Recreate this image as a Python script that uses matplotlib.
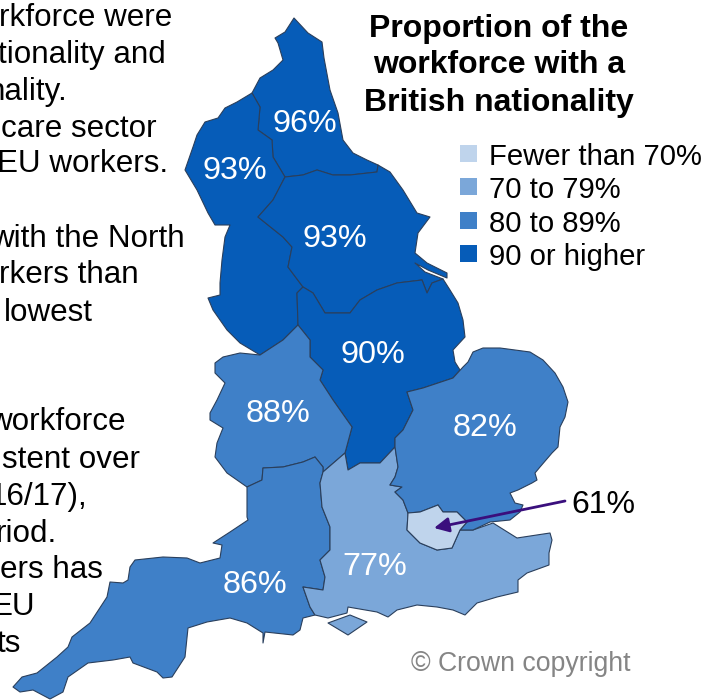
import matplotlib
matplotlib.use("Agg")
import matplotlib.pyplot as plt
from matplotlib.patches import Polygon, Rectangle, FancyArrowPatch

plt.rcParams['font.family'] = ['Liberation Sans', 'DejaVu Sans']

BINS = ["Fewer than 70%", "70 to 79%", "80 to 89%", "90 or higher"]
BIN_COLOURS = ["#bfd4ec", "#7ba7d9", "#3f80c8", "#065cb8"]

NORTH_EAST = [(294,18),(308,33),(322,42),(324,58),(330,90),(338,113),(343,140),(353,153),(367,160),(378,165),(377,172),(350,175),(333,175),(317,170),(303,175),(285,177),(273,157),(272,140),(258,130),(260,107),(252,93),(260,78),(273,70),(283,60),(278,43),(275,38),(285,32)]
NORTH_WEST = [(252,93),(260,107),(258,130),(272,140),(273,157),(285,177),(273,200),(258,217),(283,237),(292,247),(288,267),(303,287),(297,293),(298,325),(283,340),(260,355),(240,343),(227,330),(213,310),(208,298),(220,295),(220,283),(222,260),(225,237),(230,225),(215,225),(208,213),(197,190),(185,170),(193,147),(197,135),(205,122),(218,118),(225,108),(237,102)]
YORKSHIRE = [(285,177),(303,175),(317,170),(333,175),(350,175),(377,172),(378,165),(390,172),(403,190),(417,213),(430,217),(418,233),(415,253),(427,263),(447,273),(447,278),(428,270),(415,263),(425,272),(443,279),(432,283),(427,293),(422,280),(397,283),(377,290),(360,300),(350,313),(325,313),(313,293),(303,287),(288,267),(292,247),(283,237),(258,217),(273,200)]
EAST_MIDLANDS = [(303,287),(313,293),(325,313),(350,313),(360,300),(377,290),(397,283),(422,280),(427,293),(432,283),(443,279),(450,290),(458,303),(463,320),(465,337),(453,350),(455,362),(460,370),(453,378),(423,388),(407,392),(413,410),(403,430),(395,438),(395,447),(380,463),(360,463),(348,470),(345,453),(352,427),(333,400),(320,380),(323,370),(310,357),(310,340),(298,325),(297,293)]
WEST_MIDLANDS = [(298,325),(310,340),(310,357),(323,370),(320,380),(333,400),(352,427),(345,453),(323,472),(323,467),(315,457),(303,462),(283,467),(263,468),(262,480),(247,487),(227,473),(215,457),(217,443),(223,428),(210,420),(210,413),(217,400),(225,383),(215,373),(215,363),(223,357),(240,353),(260,355),(283,340)]
SOUTH_WEST = [(247,487),(262,480),(263,468),(283,467),(303,462),(315,457),(323,467),(323,472),(320,483),(322,507),(330,527),(330,550),(320,560),(325,577),(323,590),(303,587),(310,607),(315,615),(303,618),(300,630),(293,635),(265,632),(263,643),(263,633),(247,623),(230,618),(207,622),(188,628),(185,657),(172,677),(163,678),(157,672),(133,663),(130,657),(113,660),(88,663),(68,677),(63,692),(50,699),(33,690),(20,692),(13,687),(22,677),(37,673),(57,657),(68,647),(72,637),(90,623),(107,597),(110,582),(123,583),(128,580),(130,567),(135,560),(163,557),(187,558),(200,563),(220,558),(222,545),(213,543),(230,532),(248,520),(247,517)]
SOUTH_EAST = [(323,472),(345,453),(348,470),(360,463),(380,463),(395,447),(398,467),(395,477),(390,485),(402,487),(395,492),(403,500),(408,513),(407,530),(420,543),(437,550),(452,548),(460,530),(473,530),(493,523),(517,538),(550,533),(552,540),(549,553),(549,565),(527,573),(518,580),(518,592),(497,597),(477,603),(465,615),(453,610),(437,607),(417,605),(397,610),(388,617),(377,612),(348,607),(347,613),(328,618),(315,615),(310,607),(303,587),(323,590),(325,577),(320,560),(330,550),(330,527),(322,507),(320,483)]
ISLE_OF_WIGHT = [(328,623),(350,615),(367,622),(348,635)]
EAST = [(407,392),(423,388),(453,378),(463,367),(468,362),(473,352),(483,348),(500,348),(530,352),(543,360),(555,373),(563,387),(568,402),(565,417),(560,427),(558,447),(552,453),(540,467),(535,473),(537,480),(532,483),(518,490),(510,493),(515,503),(523,505),(520,512),(510,520),(490,522),(473,530),(460,530),(467,522),(457,512),(443,512),(438,505),(420,512),(408,513),(403,500),(395,492),(402,487),(390,485),(395,477),(398,467),(395,447),(395,438),(403,430),(413,410)]
LONDON = [(408,513),(420,512),(438,505),(443,512),(457,512),(467,522),(460,530),(452,548),(437,550),(420,543),(407,530)]

REGIONS = [(NORTH_EAST,3),(NORTH_WEST,3),(YORKSHIRE,3),(EAST_MIDLANDS,3),(WEST_MIDLANDS,2),(SOUTH_WEST,2),(SOUTH_EAST,1),(ISLE_OF_WIGHT,1),(EAST,2),(LONDON,0)]

REGION_LABELS = [("96%",305,132),("93%",235,179),("93%",335,247),("90%",373,363),("88%",278,422),("82%",485,436),("77%",375,575),("86%",255,593)]

LEFT_TEXT = [("rkforce were",172,26),("tionality and",166,63),("nality.",68,100),("care sector",157,137),("EU workers.",168,172),
             ("with the North",185,247),("rkers than",139,283),("lowest",93,321),
             ("workforce",126,430),("stent over",140,468),("16/17),",87,505),("riod.",57,542),("ers has",103,578),("EU",35,615),("ts",21,652)]

TITLE = ["Proportion of the", "workforce with a", "British nationality"]
TITLE_BASE = [37, 73, 111]
LEGEND_BASE = [165, 198, 232, 265]

fig = plt.figure(figsize=(7.04, 7.0), dpi=100)
ax = fig.add_axes([0, 0, 1, 1])
ax.set_xlim(0, 704)
ax.set_ylim(700, 0)
ax.axis("off")

for poly, b in REGIONS:
    ax.add_patch(Polygon(poly, closed=True, facecolor=BIN_COLOURS[b], edgecolor="#2a3f5c", linewidth=0.8, joinstyle="round"))

for s, x, y in REGION_LABELS:
    ax.text(x, y, s, color="white", fontsize=23.3, ha="center", va="baseline")

for s, x, y in LEFT_TEXT:
    ax.text(x, y, s, color="black", fontsize=22.6, ha="right", va="baseline")

for s, y in zip(TITLE, TITLE_BASE):
    ax.text(499, y, s, color="black", fontsize=23, fontweight="bold", ha="center", va="baseline")

for s, c, y in zip(BINS, BIN_COLOURS, LEGEND_BASE):
    ax.add_patch(Rectangle((460, y - 20), 17, 17, facecolor=c, edgecolor="none"))
    ax.text(489, y, s, color="black", fontsize=21.1, ha="left", va="baseline")

ax.add_patch(FancyArrowPatch((565, 501), (434, 528), arrowstyle="-|>", mutation_scale=22, color="#3a0f7d", linewidth=2, shrinkA=0, shrinkB=0))
ax.text(571, 513, "61%", color="black", fontsize=23, ha="left", va="baseline")
ax.text(411, 671, "© Crown copyright", color="#858585", fontsize=19.2, ha="left", va="baseline")

fig.savefig("out.png", dpi=100)
